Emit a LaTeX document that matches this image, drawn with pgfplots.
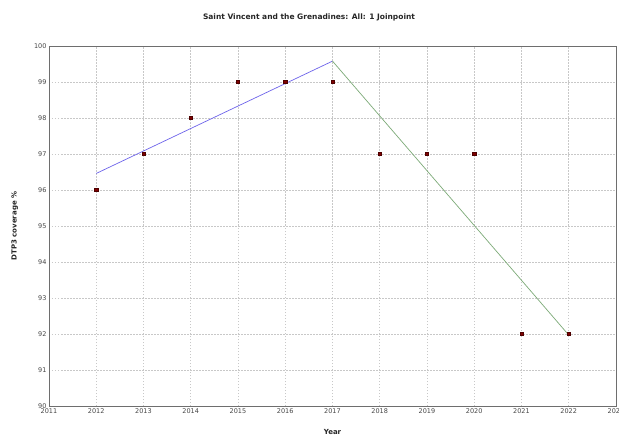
\documentclass[border=0pt]{standalone}
\usepackage{pgfplots}
\pgfplotsset{compat=1.18}
\usepackage{fontspec}
\setmainfont{DejaVu Sans}

\definecolor{ptred}{RGB}{128,0,0}
\definecolor{segblue}{RGB}{110,100,235}
\definecolor{seggreen}{RGB}{125,170,120}
\definecolor{gridgray}{RGB}{200,200,200}
\definecolor{framegray}{RGB}{110,110,110}
\definecolor{ticktext}{RGB}{70,70,70}

\begin{document}
\begin{tikzpicture}
\useasboundingbox (0pt,0pt) rectangle (619pt,440pt);
\clip (0pt,0pt) rectangle (619pt,440pt);
\fill[white] (0pt,0pt) rectangle (619pt,440pt);
\node[font=\bfseries\fontsize{7.5}{9}\selectfont, text=black!85] at (309pt,423pt) {Saint Vincent and the Grenadines: All: 1 Joinpoint};
\begin{axis}[
  at={(49pt,34pt)}, anchor=south west,
  scale only axis, width=567pt, height=360pt,
  xmin=2011, xmax=2023, ymin=90, ymax=100,
  xtick={2011,...,2023},
  ytick={90,...,100},
  xticklabels={2011,2012,2013,2014,2015,2016,2017,2018,2019,2020,2021,2022,2023},
  /pgf/number format/assume math mode=true,
  /pgf/number format/1000 sep={},
  tick label style={font=\fontsize{6.5}{8}\selectfont, text=ticktext},
  xticklabel style={yshift=1pt},
  yticklabel style={xshift=1pt},
  major tick length=0pt,
  grid=major,
  major grid style={gridgray, line width=0.5pt, dash pattern=on 1.5pt off 1.5pt},
  axis line style={framegray, line width=0.8pt},
  xlabel={Year}, ylabel={DTP3 coverage \%},
  label style={font=\bfseries\fontsize{7}{8}\selectfont, text=black!85},
  xlabel style={yshift=-9pt},
  ylabel style={yshift=9pt},
  clip=false,
]
\addplot[segblue, line width=0.7pt] coordinates {(2012,96.46) (2017,99.58)};
\addplot[seggreen, line width=0.7pt] coordinates {(2017,99.58) (2022,91.97)};
\addplot[only marks, mark=square*, mark size=1.6pt, mark options={fill=ptred, draw=ptred!60!black}] coordinates {
  (2012,96) (2013,97) (2014,98) (2015,99) (2016,99) (2017,99)
  (2018,97) (2019,97) (2020,97) (2021,92) (2022,92)
};
\end{axis}
\end{tikzpicture}
\end{document}
